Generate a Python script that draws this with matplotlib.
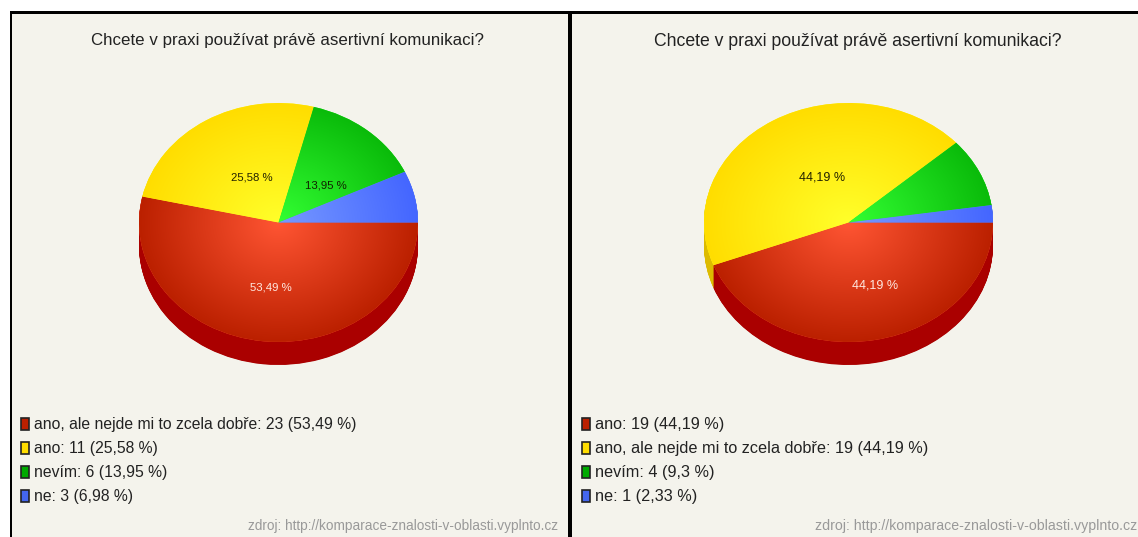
# coding: utf-8

"""Two pseudo-3D pies comparing answers to the same survey question."""

import numpy as np
import matplotlib
matplotlib.use('Agg')
import matplotlib.pyplot as plt
from matplotlib.patches import Rectangle

plt.rcParams['font.family'] = ['Liberation Sans', 'DejaVu Sans']

W, H = 1138, 537

# data
title = 'Chcete v praxi používat právě asertivní komunikaci?'
source = 'zdroj: http://komparace-znalosti-v-oblasti.vyplnto.cz'

left_categories = ['ano, ale nejde mi to zcela dobře', 'ano', 'nevím', 'ne']
left_counts = [23, 11, 6, 3]
left_percents = ['53,49 %', '25,58 %', '13,95 %', '6,98 %']
left_slice_labels = ['53,49 %', '25,58 %', '13,95 %', '']

right_categories = ['ano', 'ano, ale nejde mi to zcela dobře', 'nevím', 'ne']
right_counts = [19, 19, 4, 1]
right_percents = ['44,19 %', '44,19 %', '9,3 %', '2,33 %']
right_slice_labels = ['44,19 %', '44,19 %', '', '']

# colours: centre of the slice, rim of the slice, side of the pie
inner = ['#ff5533', '#ffff2a', '#33ff33', '#7799ff']
outer = ['#bb2000', '#ffdd00', '#0abb0a', '#4466ff']
side = ['#aa0000', '#ddbb00', '#009900', '#2244cc']
swatch = ['#bb2000', '#ffdd00', '#00aa00', '#4466ee']
label_colors = ['#ffe8e0', '#222200', '#112200', '#222222']
bg = '#f4f3ec'


def px_axes(fig, x0, y0, x1, y1):
    return fig.add_axes([x0 / W, 1 - y1 / H, (x1 - x0) / W, (y1 - y0) / H])


def draw_pie(fig, counts, x0, x1, y0=103, y1=342, depth=23):
    ax = px_axes(fig, x0, y0, x1, y1)
    ry = (y1 - y0) / 2

    # the side is the same pie repeated downwards
    for d in np.arange(depth, 0, -0.5):
        wedges, _ = ax.pie(counts, colors=side, startangle=0, counterclock=False,
                           center=(0, -d / ry))
        for w in wedges:
            w.set_clip_on(False)

    wedges, _ = ax.pie(counts, colors=inner, startangle=0, counterclock=False)
    gx, gy = np.meshgrid(np.linspace(-1, 1, 400), np.linspace(-1, 1, 400))
    r = np.clip(np.hypot(gx, gy), 0, 1)[..., None]
    for w, c0, c1 in zip(wedges, inner, outer):
        rgb0 = np.array(matplotlib.colors.to_rgb(c0))
        rgb1 = np.array(matplotlib.colors.to_rgb(c1))
        im = ax.imshow(rgb0 + (rgb1 - rgb0) * r, extent=(-1, 1, -1, 1),
                       aspect='auto', zorder=3, interpolation='bilinear')
        im.set_clip_path(w)

    ax.set_aspect('auto')
    ax.set_xlim(-1, 1)
    ax.set_ylim(-1, 1)
    ax.axis('off')
    ax.patch.set_alpha(0)


def draw_legend(ax, categories, counts, percents, x_box, x_text, size):
    for i, (cat, n, pct) in enumerate(zip(categories, counts, percents)):
        y = 424 + 24 * i
        ax.add_patch(Rectangle((x_box, y - 6), 8, 12, fc=swatch[i], ec='#222222', lw=1.2))
        ax.text(x_text, y, f'{cat}: {n} ({pct})', fontsize=size, color='#222222',
                va='center', ha='left')


fig = plt.figure(figsize=(W / 100, H / 100), dpi=100, facecolor='white')

# page: background, borders and all the text, in pixels
page = fig.add_axes([0, 0, 1, 1])
page.set_xlim(0, W)
page.set_ylim(H, 0)
page.axis('off')
page.add_patch(Rectangle((10, 11), W - 10, H - 11, fc=bg, ec='none'))
page.add_patch(Rectangle((10, 11), W - 10, 2.5, fc='black', ec='none'))
page.add_patch(Rectangle((10, 11), 2.5, H - 11, fc='black', ec='none'))
page.add_patch(Rectangle((568.5, 11), 3.5, H - 11, fc='black', ec='none'))

page.text(287, 41, title, fontsize=12.2, color='#222222', ha='center', va='center')
page.text(857.5, 41, title, fontsize=12.7, color='#222222', ha='center', va='center')

draw_legend(page, left_categories, left_counts, left_percents, 21, 34, 11.3)
draw_legend(page, right_categories, right_counts, right_percents, 582, 595.5, 11.7)

page.text(558, 526, source, fontsize=9.85, color='#999999', ha='right', va='center')
page.text(1137, 526, source, fontsize=10.15, color='#999999', ha='right', va='center')

draw_pie(fig, left_counts, 139, 418)
draw_pie(fig, right_counts, 704, 993)

# slice labels go on top of the pies
top = fig.add_axes([0, 0, 1, 1])
top.set_xlim(0, W)
top.set_ylim(H, 0)
top.axis('off')
top.patch.set_alpha(0)
left_label_pos = [(271, 288), (252, 178), (326, 185), (0, 0)]
right_label_pos = [(875, 285), (822, 178), (0, 0), (0, 0)]
for labels, pos, size in ((left_slice_labels, left_label_pos, 8.2),
                          (right_slice_labels, right_label_pos, 9.0)):
    for i, (s, (x, y)) in enumerate(zip(labels, pos)):
        if s:
            top.text(x, y, s, fontsize=size, color=label_colors[i], ha='center', va='center')

fig.savefig('out.png', dpi=100)
